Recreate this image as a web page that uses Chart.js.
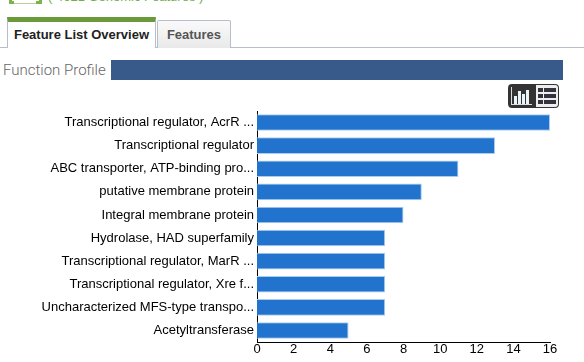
<!DOCTYPE html>
<html lang="en">
<head>
<meta charset="UTF-8">
<title>Function Profile</title>
<script src="https://cdn.jsdelivr.net/npm/chart.js"></script>
<style>
  html, body { margin: 0; padding: 0; background: #fff; overflow: hidden; }
  body { width: 584px; height: 362px; position: relative; font-family: "Liberation Sans", Arial, sans-serif; }
  .abs { position: absolute; box-sizing: border-box; }
  #icon { left: 9px; top: -9px; width: 33px; height: 13px; border: 3px solid #7fb24a; background: #fff; }
  #iconGap { left: 14px; top: 0; width: 22px; height: 4px; background: #fff; border-bottom: 1px solid #b5d29a; }
  #count { left: 48px; top: -11px; font-size: 13px; line-height: 16px; color: #6fae4f; white-space: nowrap; }
  #rule { left: 0; top: 47px; width: 584px; height: 1px; background: #b8bdcc; }
  #tab1 { left: 7px; top: 17px; width: 149px; height: 31px; background: #fff; border-top: 5px solid #6a9a3a; border-left: 1px solid #b8bdcc; border-right: 1px solid #b8bdcc; font-weight: bold; font-size: 13px; line-height: 26px; text-align: center; color: #222; }
  #tab2 { left: 157px; top: 20px; width: 74px; height: 28px; background: linear-gradient(#fafafa, #e9e9e9); border: 1px solid #b8bdcc; border-bottom: 0; border-radius: 2px 2px 0 0; font-weight: bold; font-size: 13px; line-height: 27px; text-align: center; color: #555; }
  #title { left: 3px; top: 60px; font-family: Roboto, sans-serif; font-size: 15px; line-height: 20px; font-weight: 300; color: #666; white-space: nowrap; }
  #band { left: 111px; top: 60px; width: 452px; height: 20px; background: #385a8a; }
  #toggle { left: 508px; top: 84px; width: 51px; height: 24px; border-radius: 4px; background: #333; overflow: hidden; }
  #toggle .right { position: absolute; left: 28px; top: 1px; width: 22px; height: 22px; background: #eee; border-radius: 0 3px 3px 0; }
  #toggle .row { position: absolute; height: 4px; background: #33333f; }
  #toggle .bar { position: absolute; width: 3px; background: #eaf4fb; }
  #toggle .base { position: absolute; left: 3px; top: 3px; width: 21px; height: 18px; border-left: 1px solid #ddd; border-bottom: 1px solid #ddd; box-sizing: border-box; }
  #chart { position: absolute; left: 0; top: 100px; }
</style>
</head>
<body>
  <div class="abs" id="icon"></div>
  <div class="abs" id="iconGap"></div>
  <div class="abs" id="count">( 4621 Genomic Features )</div>
  <div class="abs" id="rule"></div>
  <div class="abs" id="tab1">Feature List Overview</div>
  <div class="abs" id="tab2">Features</div>
  <div class="abs" id="title">Function Profile</div>
  <div class="abs" id="band"></div>
  <div class="abs" id="toggle">
    <div class="base"></div>
    <div class="bar" style="left:6px;top:12px;height:8px"></div>
    <div class="bar" style="left:10px;top:7px;height:13px"></div>
    <div class="bar" style="left:14px;top:10px;height:10px"></div>
    <div class="bar" style="left:18px;top:6px;height:14px"></div>
    <div class="right">
      <div class="row" style="left:2px;width:5px;top:3px"></div>
      <div class="row" style="left:8px;width:12px;top:3px"></div>
      <div class="row" style="left:2px;width:5px;top:9px"></div>
      <div class="row" style="left:8px;width:12px;top:9px"></div>
      <div class="row" style="left:2px;width:5px;top:15px"></div>
      <div class="row" style="left:8px;width:12px;top:15px"></div>
    </div>
  </div>
  <canvas id="chart" width="584" height="262"></canvas>

  <script>
    const categories = [
      'Transcriptional regulator, AcrR ...',
      'Transcriptional regulator',
      'ABC transporter, ATP-binding pro...',
      'putative membrane protein',
      'Integral membrane protein',
      'Hydrolase, HAD superfamily',
      'Transcriptional regulator, MarR ...',
      'Transcriptional regulator, Xre f...',
      'Uncharacterized MFS-type transpo...',
      'Acetyltransferase'
    ];
    const counts = [16, 13, 11, 9, 8, 7, 7, 7, 7, 5];
    const xTicks = [0, 2, 4, 6, 8, 10, 12, 14, 16];

    Chart.defaults.font.family = '"Liberation Sans", Arial, sans-serif';
    Chart.defaults.animation = false;

    new Chart(document.getElementById('chart').getContext('2d'), {
      type: 'bar',
      data: {
        labels: categories,
        datasets: [{
          data: counts,
          backgroundColor: '#2173cd',
          borderColor: '#a9cdf0',
          borderWidth: 1,
          categoryPercentage: 0.72,
          barPercentage: 1
        }]
      },
      options: {
        indexAxis: 'y',
        responsive: false,
        layout: { padding: { top: 11, right: 34, bottom: 0, left: 0 } },
        plugins: { legend: { display: false }, tooltip: { enabled: false } },
        scales: {
          x: {
            min: 0,
            max: 16,
            afterBuildTicks: axis => { axis.ticks = xTicks.map(v => ({ value: v })); },
            afterFit: axis => { axis.height = 20; },
            grid: { display: false, drawTicks: false },
            border: { display: true, color: '#000', width: 1 },
            ticks: { color: '#000', font: { size: 13 }, padding: 0, maxRotation: 0, autoSkip: false }
          },
          y: {
            afterFit: axis => { axis.width = 257; },
            grid: { display: false, drawTicks: false },
            border: { display: true, color: '#000', width: 1 },
            ticks: { color: '#000', font: { size: 13 }, padding: 3, autoSkip: false }
          }
        }
      }
    });
  </script>
</body>
</html>
